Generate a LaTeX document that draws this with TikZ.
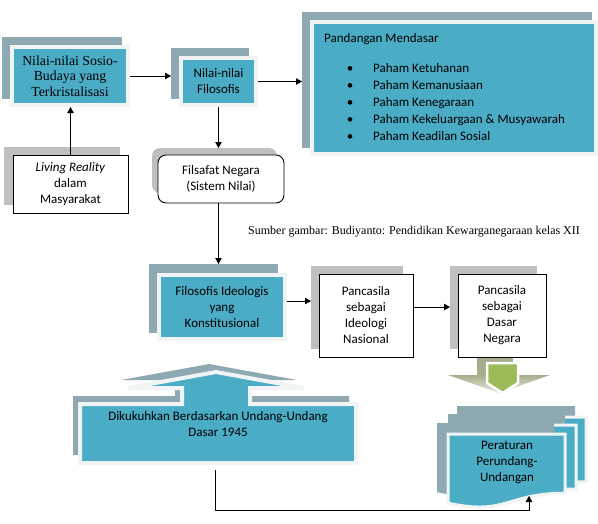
\documentclass[tikz,border=0pt]{standalone}
\usepackage{fontspec}
\setmainfont{Carlito}
\newfontfamily\serifrm{Liberation Serif}
\usetikzlibrary{arrows.meta}
\definecolor{tealc}{HTML}{4BACC6}
\definecolor{shadowblue}{HTML}{8FA9B3}
\definecolor{framec}{HTML}{F0F4F5}
\definecolor{lightg}{HTML}{BFBFBF}
\definecolor{greenc}{HTML}{9BBB59}
\definecolor{olivec}{HTML}{A5AE8A}
\newcommand\myc{\fontsize{13}{16}\selectfont}
\newcommand\mys{\serifrm\fontsize{13.8}{15.5}\selectfont}
\newcommand\bx[7]{\node[#1, minimum width={#5-#3}, minimum height={#6-#4}] (#2) at ({(#3+#5)/2},{(#4+#6)/2}) {#7};}
\newcommand\mydoc[4]{%
  \begin{scope}[shift={(-11,-11)}]
    \fill[shadowblue] (#1,#2) -- (#3,#2) -- (#3,{#2+0.8*#4}) .. controls ({(#1+#3)/2},{#2+0.8*#4}) and ({(#1+#3)/2},{#2+1.107*#4}) .. (#1,{#2+0.934*#4}) -- cycle;
  \end{scope}
  \filldraw[fill=tealc, draw=framec, line width=3pt] (#1,#2) -- (#3,#2) -- (#3,{#2+0.8*#4}) .. controls ({(#1+#3)/2},{#2+0.8*#4}) and ({(#1+#3)/2},{#2+1.107*#4}) .. (#1,{#2+0.934*#4}) -- cycle;
}
\begin{document}
\begin{tikzpicture}[x=1pt,y=-1pt,
  shb/.style={fill=shadowblue, draw=none, inner sep=0pt, outer sep=0pt},
  shg/.style={fill=lightg, draw=none, inner sep=0pt, outer sep=0pt},
  tealbox/.style={fill=tealc, draw=framec, line width=4pt, inner sep=0pt, align=center, font=\myc},
  whitebox/.style={fill=white, draw=black, line width=0.9pt, inner sep=0pt, align=center, font=\myc},
  arr/.style={draw=black, line width=0.9pt, -{Triangle[length=6pt,width=6.5pt]}},
  txt/.style={font=\myc, inner sep=0pt},
]
\useasboundingbox[fill=white] (0,0) rectangle (598,523);

% box 1
\bx{shb}{box1s}{2}{37}{122}{99}{}
\bx{tealbox,font=\mys}{box1}{12}{47}{128}{105}{Nilai-nilai Sosio-\\Budaya yang\\Terkristalisasi}
% box 2
\bx{shb}{box2s}{171}{48}{249}{99}{}
\bx{tealbox}{box2}{181}{58}{256}{105}{Nilai-nilai\\Filosofis}
% box 3
\bx{shb}{box3s}{302}{12}{592}{148}{}
\bx{tealbox}{box3}{312}{22}{596}{154}{}
\node[txt, anchor=base west] (pm) at (324,42) {Pandangan Mendasar};
\foreach \t [count=\i] in {Paham Ketuhanan, Paham Kemanusiaan, Paham Kenegaraan, Paham Kekeluargaan \& Musyawarah, Paham Keadilan Sosial}{
  \node[txt, anchor=base] (b\i) at (350,{55+17*\i}) {•};
  \node[txt, anchor=base west] (p\i) at (373,{55+17*\i}) {\t};
}
% living reality
\bx{shg}{livings}{4}{147}{120}{205}{}
\bx{whitebox}{living}{13}{155}{128}{213}{\textit{Living Reality}\\dalam\\Masyarakat}
% filsafat
\bx{shg,rounded corners=8pt}{filsafats}{152}{148}{277}{193}{}
\bx{whitebox,rounded corners=8pt}{filsafat}{158}{155}{284}{203}{Filsafat Negara\\(Sistem Nilai)}
% source
\node[inner sep=0pt, anchor=west, font=\serifrm\fontsize{12}{14}\selectfont] (src) at (248,232) {Sumber gambar: Budiyanto: Pendidikan Kewarganegaraan kelas XII};
% filosofis
\bx{shb}{filosofiss}{149}{264}{278}{333}{}
\bx{tealbox}{filosofis}{159}{275}{285}{339}{Filosofis Ideologis\\yang\\Konstitusional}
% ideologi
\bx{shg}{ideologis}{311}{266}{403}{349}{}
\bx{whitebox}{ideologi}{319}{274}{413}{357}{Pancasila\\sebagai\\Ideologi\\Nasional}
% green arrow shadow
\fill[olivec] (477,350) rectangle (513,375);
\shade[top color=olivec, bottom color=olivec!25] (448,375) -- (550,375) -- (499,393) -- cycle;
% dasar
\bx{shg}{dasars}{450}{266}{537}{349}{}
\bx{whitebox}{dasar}{458}{274}{546}{357}{Pancasila\\sebagai\\Dasar\\Negara}
% green arrow
\filldraw[fill=greenc, draw=white, line width=2.5pt] (487,363) -- (518,363) -- (518,383) -- (502.5,393) -- (487,383) -- cycle;

% dikukuhkan
\begin{scope}[shift={(-7,-8)}]
\fill[shadowblue] (80,404) -- (182,404) -- (182,388) -- (128,388) -- (216,372) -- (304,388) -- (250,388) -- (250,404) -- (356,404) -- (356,463) -- (80,463) -- cycle;
\end{scope}
\filldraw[fill=tealc, draw=framec, line width=4pt] (80,404) -- (182,404) -- (182,388) -- (128,388) -- (216,372) -- (304,388) -- (250,388) -- (250,404) -- (356,404) -- (356,463) -- (80,463) -- cycle;
\node[txt, align=center] (dik) at (218,424) {Dikukuhkan Berdasarkan Undang-Undang\\Dasar 1945};

% documents
\mydoc{468}{417}{586}{81}
\mydoc{459}{425}{576}{80}
\mydoc{448}{434}{565}{74}
\node[txt, align=center] (per) at (507,462) {Peraturan\\Perundang-\\Undangan};

% connectors
\draw[arr] (box1.east) -- (box1.east -| box2s.west);
\draw[arr] (box2.east) -- (box2.east -| box3s.west);
\draw[arr] (living.north) -- (living.north |- box1.south);
\draw[arr] (box2.south) -- (box2.south |- filsafats.north);
\draw[arr] (filsafat.south -| box2.south) -- (box2.south |- filosofiss.north);
\draw[arr] ([yshift=6pt]filosofis.east) -- ([yshift=6pt]filosofis.east -| ideologis.west);
\draw[arr] ([yshift=8.5pt]ideologi.east) -- ([yshift=8.5pt]ideologi.east -| dasars.west);
\coordinate (dikb) at (215,470);
\coordinate (perb) at (529,496);
\draw[arr] (dikb) |- ([yshift=-14pt]perb) -- (perb);
\end{tikzpicture}
\end{document}
